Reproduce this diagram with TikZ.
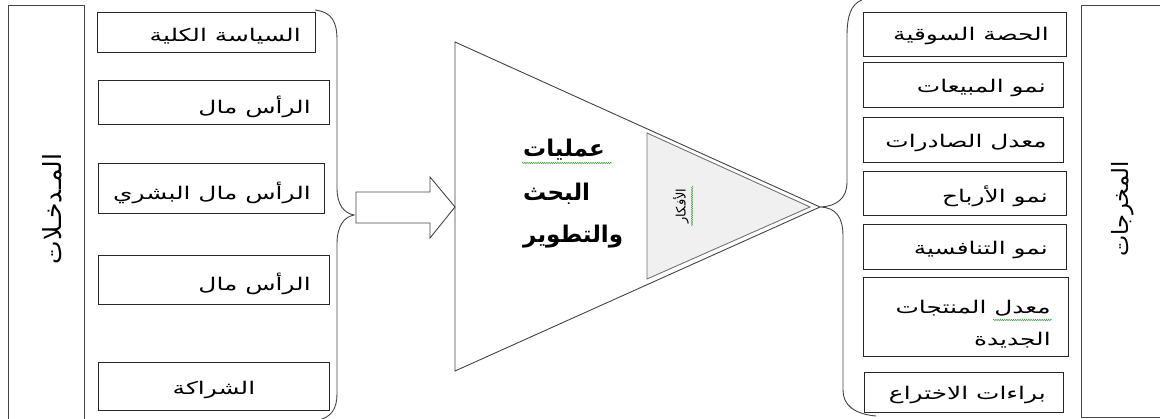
\documentclass[tikz,border=0pt]{standalone}
\usepackage{fontspec}
\usetikzlibrary{decorations.pathmorphing}
\TeXXeTstate=1
\newfontfamily\arabicfont[Script=Arabic]{DejaVu Sans}
\newfontfamily\arabicwide[Script=Arabic, FakeStretch=1.42]{DejaVu Sans}
\newcommand{\artxt}[1]{{\arabicfont\beginR #1\endR}}
\newcommand{\arwide}[1]{{\arabicwide\beginR #1\endR}}
\definecolor{linegray}{HTML}{444444}
\definecolor{trifill}{HTML}{F0F0F0}
\definecolor{spell}{HTML}{3CA03C}
\tikzset{
  box/.style={draw=black!85, line width=0.9pt, inner sep=0pt, anchor=north west},
  tallbox/.style={draw=linegray, line width=1pt, inner sep=0pt, anchor=north west},
  lbl/.style={inner sep=0pt, font=\fontsize{17.5}{20}\selectfont, anchor=east},
  sidelbl/.style={inner sep=0pt, font=\fontsize{25}{28}\selectfont, rotate=90},
  midlbl/.style={inner sep=0pt, font=\fontsize{23}{26}\selectfont\bfseries, anchor=west},
  brace/.style={draw=linegray, line width=0.9pt},
  outline/.style={draw=linegray, line width=0.9pt, line join=miter},
  squiggle/.style={draw=spell, line width=0.5pt, decorate, decoration={snake, segment length=2.2pt, amplitude=0.7pt}}
}
\begin{document}
\begin{tikzpicture}[x=1pt, y=-1pt]
\useasboundingbox (0,0) rectangle (1160,419);
\fill[white] (0,0) rectangle (1160,419);

% tall side boxes
\node[tallbox, minimum width=76pt, minimum height=420pt] (inbox) at (8,5) {};
\node[sidelbl] (inlbl) at (52,209) {\artxt{المـدخـلات}};
\node[tallbox, minimum width=82pt, minimum height=412pt] (outbox) at (1081,5) {};
\node[sidelbl, font=\fontsize{22.5}{26}\selectfont] (outlbl) at (1123,209) {\artxt{المخرجات}};

% input boxes
\node[box, minimum width=218pt, minimum height=40pt] (i1) at (97,12) {};
\node[lbl] at ([xshift=-15pt, yshift=-4pt]i1.east) {\arwide{السياسة الكلية}};
\node[box, minimum width=231pt, minimum height=44pt] (i2) at (98,80) {};
\node[lbl] at ([xshift=-19pt, yshift=-4pt]i2.east) {\arwide{الرأس مال}};
\node[box, minimum width=226pt, minimum height=50pt] (i3) at (98,163) {};
\node[lbl] at ([xshift=-14pt, yshift=-4pt]i3.east) {\arwide{الرأس مال البشري}};
\node[box, minimum width=231pt, minimum height=49pt] (i4) at (98,255) {};
\node[lbl] at ([xshift=-19pt, yshift=-4pt]i4.east) {\arwide{الرأس مال}};
\node[box, minimum width=231pt, minimum height=48pt] (i5) at (98,362) {};
\node[lbl, anchor=center] at ([yshift=-4pt]i5.center) {\arwide{الشراكة}};

% left brace
\draw[brace] (315,10) .. controls (332,12) and (337,22) .. (337,40)
  -- (337,188) .. controls (337,205) and (344,213) .. (354,215)
  coordinate (ltip)
  .. controls (344,217) and (337,226) .. (337,244)
  -- (337,394) .. controls (337,409) and (331,417) .. (319,420);

% block arrow
\draw[outline] (356,192) -- (430,192) -- (430,177) -- (455,207) -- (430,238)
  -- (430,223) -- (356,223) -- cycle;

% big triangle
\draw[outline] (455,42) -- (820,207) -- (455,371) -- cycle;
\draw[outline, fill=trifill, draw=black!55] (647,133) -- (810,207) -- (647,279) -- cycle;
\node[inner sep=0pt, font=\fontsize{13}{15}\selectfont, rotate=90] (ideas) at (681,206) {\artxt{الأفكار}};
\draw[squiggle] (692,186) -- (692,226);

% middle text
\node[midlbl] (m1) at (523,150) {\artxt{عمليات}};
\node[midlbl] (m2) at (523,194) {\artxt{البحث}};
\node[midlbl] (m3) at (523,237) {\artxt{والتطوير}};
\draw[squiggle] (522,163) -- (612,163);

% right brace
\draw[brace] (862,0) .. controls (851,4) and (847,16) .. (847,36)
  -- (847,182) .. controls (847,199) and (836,206) .. (821,207)
  .. controls (835,208) and (843,216) .. (843,236)
  -- (843,390) .. controls (843,405) and (854,414) .. (876,416);

% output boxes
\node[box, minimum width=203pt, minimum height=44pt] (o1) at (863,12) {};
\node[lbl] at ([xshift=-18pt, yshift=-2pt]o1.east) {\arwide{الحصة السوقية}};
\node[box, minimum width=200pt, minimum height=45pt] (o2) at (863,62) {};
\node[lbl] at ([xshift=-18pt, yshift=-3pt]o2.east) {\arwide{نمو المبيعات}};
\node[box, minimum width=200pt, minimum height=45pt] (o3) at (863,117) {};
\node[lbl] at ([xshift=-17pt, yshift=-3pt]o3.east) {\arwide{معدل الصادرات}};
\node[box, minimum width=203pt, minimum height=44pt] (o4) at (863,171) {};
\node[lbl] at ([xshift=-19pt, yshift=-3pt]o4.east) {\arwide{نمو الأرباح}};
\node[box, minimum width=203pt, minimum height=45pt] (o5) at (863,224) {};
\node[lbl] at ([xshift=-19pt, yshift=-3pt]o5.east) {\arwide{نمو التنافسية}};
\node[box, minimum width=205pt, minimum height=79pt] (o6) at (863,277) {};
\node[lbl] at ([xshift=-18pt, yshift=9pt]o6.east) {\arwide{معدل المنتجات}};
\node[lbl] at ([xshift=-18pt, yshift=-23pt]o6.east) {\arwide{الجديدة}};
\draw[squiggle] (993,320) -- (1052,320);
\node[box, minimum width=199pt, minimum height=40pt] (o7) at (864,372) {};
\node[lbl] at ([xshift=-18pt, yshift=-3pt]o7.east) {\arwide{براءات الاختراع}};
\end{tikzpicture}
\end{document}
